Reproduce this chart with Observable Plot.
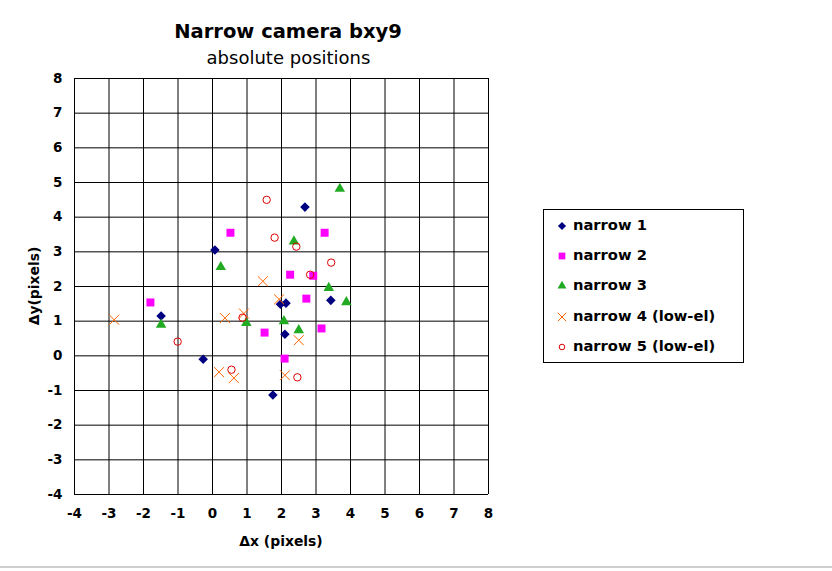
<!DOCTYPE html>
<html>
<head>
<meta charset="utf-8">
<script src="https://cdn.jsdelivr.net/npm/d3@7"></script>
<script src="https://cdn.jsdelivr.net/npm/@observablehq/plot@0.6"></script>
<style>
  body {margin: 0; background: #fff; font-family: "DejaVu Sans", sans-serif; color: #000;}
  #wrap {position: relative; width: 832px; height: 571px; overflow: hidden;}
  .t {position: absolute; white-space: nowrap;}
  #legend {position: absolute; left: 543px; top: 209px; width: 199px; height: 152px; border: 1px solid #000; box-sizing: content-box;}
  .row {position: absolute; left: 0; font-size: 14.7px; font-weight: bold; line-height: 18px;}
  .row svg {position: absolute;}
  .row span {position: absolute; left: 29px; top: -10px; white-space: nowrap;}
  #bottomline {position: absolute; left: 0; top: 566px; width: 832px; height: 2px; background: #cfcfcf;}
</style>
</head>
<body>
<div id="wrap">
  <div id="chart"></div>
  <div class="t" style="left:0;width:576px;text-align:center;top:20px;font-size:19.5px;font-weight:bold;">Narrow camera bxy9</div>
  <div class="t" style="left:0;width:577px;text-align:center;top:47px;font-size:18px;">absolute positions</div>
  <div class="t" style="left:281px;top:541px;transform:translate(-50%,-50%);font-size:13.9px;font-weight:bold;">Δx (pixels)</div>
  <div class="t" style="left:34px;top:286px;transform:translate(-50%,-50%) rotate(-90deg);font-size:13.9px;font-weight:bold;">Δy(pixels)</div>
  <div id="legend"></div>
  <div id="bottomline"></div>
</div>
<script>
// tick values on both axes
const ticks = [-4, -3, -2, -1, 0, 1, 2, 3, 4, 5, 6, 7, 8]

// [dx, dy]
const narrow1 = [[0.07, 3.05], [-1.49, 1.15], [-0.27, -0.1], [2.68, 4.29], [3.43, 1.6],
                 [1.97, 1.49], [2.13, 1.52], [2.1, 0.62], [1.75, -1.13]]
const narrow2 = [[0.52, 3.55], [-1.8, 1.54], [3.25, 3.55], [2.25, 2.34], [2.92, 2.31],
                 [2.72, 1.65], [1.51, 0.67], [3.16, 0.79], [2.09, -0.08]]
const narrow3 = [[0.24, 2.56], [-1.49, 0.9], [0.98, 0.95], [3.69, 4.82], [2.36, 3.3],
                 [3.37, 1.96], [3.88, 1.55], [2.07, 1.0], [2.5, 0.74]]
const narrow4 = [[-2.85, 1.04], [0.36, 1.09], [0.91, 1.22], [0.19, -0.47], [0.62, -0.64],
                 [1.46, 2.15], [1.93, 1.63], [2.5, 0.45], [2.1, -0.56]]
const narrow5 = [[-1.01, 0.41], [0.87, 1.1], [0.55, -0.4], [1.57, 4.5], [1.8, 3.41],
                 [2.43, 3.15], [3.44, 2.69], [2.83, 2.34], [2.46, -0.62]]

const series = [
  {name: "narrow 1", data: narrow1, symbol: "diamond2", color: "#000080", filled: true, r: 4.3},
  {name: "narrow 2", data: narrow2, symbol: "square", color: "#ff00ff", filled: true, r: 4.5},
  {name: "narrow 3", data: narrow3, symbol: "triangle", color: "#22aa22", filled: true, r: 3.9},
  {name: "narrow 4 (low-el)", data: narrow4, symbol: "times", color: "#ff6600", filled: false, r: 4.6},
  {name: "narrow 5 (low-el)", data: narrow5, symbol: "circle", color: "#dd0000", filled: false, r: 3.7},
]

let chart = Plot.plot({
  width: 832,
  height: 571,
  marginLeft: 74,
  marginRight: 344,
  marginTop: 78,
  marginBottom: 77,
  x: {domain: [-4, 8], label: null},
  y: {domain: [-4, 8], label: null},
  style: {fontFamily: "DejaVu Sans, sans-serif", background: "#fff", color: "#000"},
  marks: [
    Plot.ruleX(ticks, {stroke: "#000", strokeWidth: 1}),
    Plot.ruleY(ticks, {stroke: "#000", strokeWidth: 1}),
    Plot.axisX({ticks: ticks, tickSize: 0, tickPadding: 14, fontSize: 13.5, fontWeight: "bold",
                tickFormat: d => String(d), label: null}),
    Plot.axisY({ticks: ticks, tickSize: 0, tickPadding: 12, fontSize: 13.5, fontWeight: "bold",
                tickFormat: d => String(d), label: null}),
    ...series.map(s => Plot.dot(s.data, {
      x: d => d[0],
      y: d => d[1],
      symbol: () => s.symbol,
      r: s.r,
      fill: s.filled ? s.color : "none",
      stroke: s.filled ? "none" : s.color,
      strokeWidth: 1
    }))
  ]
})

d3.select('#chart').append(() => chart)

// legend
const legend = d3.select('#legend')
const rowY = [16, 46, 76, 107, 137]
const symbolSize = r => Math.PI * r * r
const symbols = {
  diamond2: d3.symbolDiamond2, square: d3.symbolSquare, triangle: d3.symbolTriangle,
  times: d3.symbolTimes, circle: d3.symbolCircle
}
series.forEach((s, i) => {
  const row = legend.append('div').attr('class', 'row').style('top', rowY[i] + 'px')
  const svg = row.append('svg').attr('width', 14).attr('height', 14)
    .style('left', '11px').style('top', '-7px')
  const rr = s.symbol === "circle" ? 2.8 : s.r * 0.85
  svg.append('path')
    .attr('transform', 'translate(7,7)')
    .attr('d', d3.symbol(symbols[s.symbol], symbolSize(rr))())
    .attr('fill', s.filled ? s.color : 'none')
    .attr('stroke', s.filled ? 'none' : s.color)
  row.append('span').text(s.name)
})
</script>
</body>
</html>
